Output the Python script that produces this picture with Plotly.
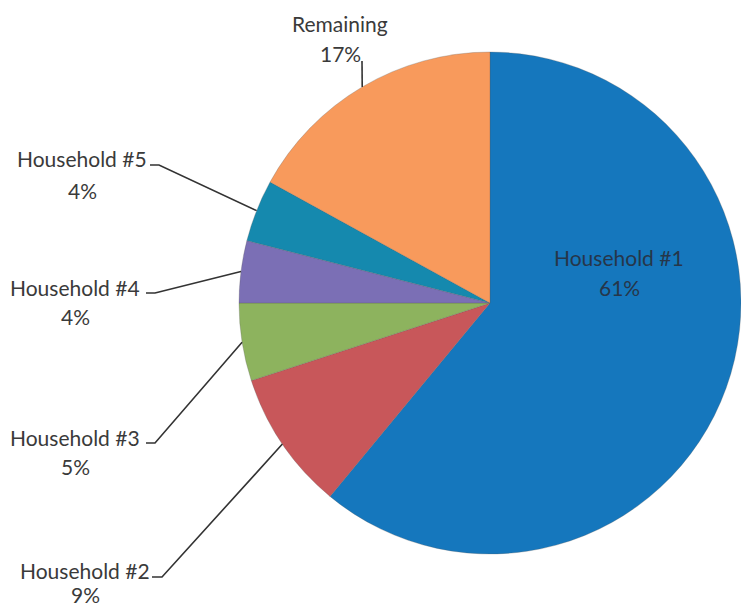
import math
import plotly.graph_objects as go

# ---- data ----
labels = ["Household #1", "Household #2", "Household #3", "Household #4", "Household #5", "Remaining"]
values = [61, 9, 5, 4, 4, 17]
colors = ["#1577BD", "#C8575A", "#8DB35E", "#7B6FB5", "#1589AE", "#F89A5C"]

W, H = 741, 607
CX, CY, R = 490, 303, 251  # pie centre / radius in pixels

def px(x):
    return x / W

def py(y):
    return 1 - y / H

fig = go.Figure(go.Pie(
    labels=labels, values=values, sort=False, direction="clockwise", rotation=0,
    marker=dict(colors=colors, line=dict(color="rgba(90,90,90,0.35)", width=0.8)),
    textinfo="none", hoverinfo="label+percent", showlegend=False,
    domain=dict(x=[(CX - R) / W, (CX + R) / W], y=[(H - CY - R) / H, (H - CY + R) / H]),
))

total = sum(values)
# label placement (pixel positions of name / percent lines, leader tick)
label_pos = {
    "Household #1": dict(x=619, y1=257, y2=287, tick=None),
    "Household #2": dict(x=85, y1=570, y2=594, tick=(152, 162, 577)),
    "Household #3": dict(x=75, y1=437, y2=467, tick=(146, 155, 443)),
    "Household #4": dict(x=75, y1=287, y2=317, tick=(146, 155, 293)),
    "Household #5": dict(x=82, y1=158, y2=190, tick=(150, 159, 165)),
    "Remaining": dict(x=340, y1=23, y2=53, tick="up"),
}

font_fam = "Lato, 'Open Sans', sans-serif"
cum = 0
shapes = []
annotations = []
for lab, v in zip(labels, values):
    mid = (cum + v / 2) / total * 2 * math.pi
    cum += v
    ex = CX + R * math.sin(mid)
    ey = CY - R * math.cos(mid)
    p = label_pos[lab]
    pct = f"{round(100 * v / total)}%"
    tcol = "#26364A" if lab == "Household #1" else "#3A3A3A"
    for txt, yy in ((lab, p["y1"]), (pct, p["y2"])):
        annotations.append(dict(x=px(p["x"]), y=py(yy), xref="paper", yref="paper", text=txt,
                                xanchor="center", yanchor="middle", showarrow=False,
                                font=dict(family=font_fam, size=21, color=tcol)))
    t = p["tick"]
    if t is None:
        continue
    if t == "up":
        path = f"M {px(362)} {py(61)} L {px(ex)} {py(ey)}"
    else:
        x0, x1, yy = t
        path = f"M {px(x0)} {py(yy)} L {px(x1)} {py(yy)} L {px(ex)} {py(ey)}"
    shapes.append(dict(type="path", xref="paper", yref="paper", path=path,
                       line=dict(color="#333333", width=1.6)))

fig.update_layout(
    width=W, height=H, margin=dict(l=0, r=0, t=0, b=0),
    paper_bgcolor="white", plot_bgcolor="white",
    shapes=shapes, annotations=annotations,
)
fig.write_html("out.html", config={"displayModeBar": False},
               post_script="document.body.style.margin='0';")
